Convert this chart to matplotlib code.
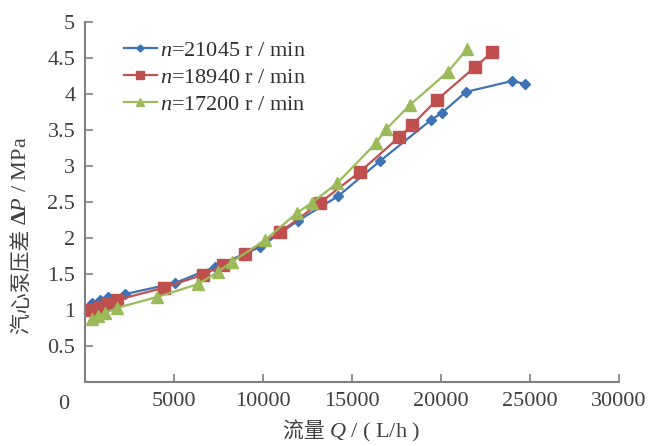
import numpy as np
import matplotlib
matplotlib.use("Agg")
import matplotlib.pyplot as plt

plt.rcParams['font.family'] = ['Liberation Serif', 'Noto Sans CJK SC']
plt.rcParams['mathtext.fontset'] = 'custom'
plt.rcParams['mathtext.rm'] = 'Liberation Serif'
plt.rcParams['mathtext.it'] = 'Liberation Serif:italic'
plt.rcParams['mathtext.bf'] = 'Liberation Serif:bold'

# Data
# -----------------------------------
q_21045 = [393, 843, 1292, 2247, 5056, 7303, 9831, 11966, 14213, 16573,
           19438, 20056, 21404, 23989, 24719]
p_21045 = [1.10, 1.14, 1.18, 1.22, 1.375, 1.60, 1.875, 2.24, 2.58, 3.07,
           3.64, 3.74, 4.03, 4.18, 4.14]

q_18940 = [393, 843, 1292, 1798, 4438, 6629, 7753, 8989, 10955, 13202,
           15449, 17640, 18371, 19775, 21910, 22865]
p_18940 = [1.00, 1.04, 1.08, 1.14, 1.31, 1.49, 1.62, 1.78, 2.08, 2.49,
           2.92, 3.40, 3.57, 3.92, 4.375, 4.58]

q_17200 = [393, 730, 1124, 1798, 4045, 6348, 7472, 8258, 10112, 11910,
           12753, 14157, 16348, 16910, 18258, 20393, 21460]
p_17200 = [0.87, 0.91, 0.96, 1.03, 1.18, 1.36, 1.53, 1.67, 1.97, 2.35,
           2.49, 2.76, 3.32, 3.51, 3.85, 4.31, 4.625]

labels = ["$n$=21045 r / min", "$n$=18940 r / min", "$n$=17200 r / min"]

# Plot
# -----------------------------------
fig = plt.figure(figsize=(6.51, 4.46), dpi=100)
ax = fig.add_axes([0.1306, 0.1435, 0.8204, 0.8072])

ax.plot(q_21045, p_21045, color='#3d72b4', marker='D', markersize=5.5,
        linewidth=1.6, label=labels[0])
ax.plot(q_18940, p_18940, color='#c0504d', marker='s', markersize=8,
        linewidth=1.6, label=labels[1])
ax.plot(q_17200, p_17200, color='#9bbb59', marker='^', markersize=8,
        linewidth=1.6, label=labels[2])

ax.set_xlim(0, 30000)
ax.set_ylim(0, 5)
ax.set_xticks(np.arange(0, 30001, 5000))
ax.set_xticklabels([''] + [str(v) for v in range(5000, 30001, 5000)])
ax.set_yticks(np.arange(0, 5.01, 0.5))
ax.set_yticklabels([''] + ['0.5', '1', '1.5', '2', '2.5', '3', '3.5', '4', '4.5', '5'])
ax.text(-0.04, -0.035, '0', transform=ax.transAxes, fontsize=16,
        color='#404040', ha='center', va='top')

for s in ['top', 'right']:
    ax.spines[s].set_visible(False)
for s in ['left', 'bottom']:
    ax.spines[s].set_color('#808080')
    ax.spines[s].set_linewidth(1.5)
ax.tick_params(direction='in', length=6, width=1.2, color='#808080',
               labelsize=16, labelcolor='#404040', pad=7)

# axis titles: CJK part and math part as separate texts
lab_col = '#404040'
fig.text(329 / 651, 1 - 432 / 446, "流量 ", fontsize=15, color=lab_col,
         family='Noto Sans CJK SC', ha='right', va='center')
fig.text(329 / 651, 1 - 432 / 446, "$Q$ / ( L/h )", fontsize=16,
         color=lab_col, ha='left', va='center')

fig.text(22 / 651, 1 - 225 / 446, "汽心泵压差 ", fontsize=15, color=lab_col,
         family='Noto Sans CJK SC', rotation=90, rotation_mode='anchor',
         ha='right', va='center')
fig.text(22 / 651, 1 - 225 / 446, "$\\mathbf{\\Delta}P$ / MPa", fontsize=16,
         color=lab_col, rotation=90, rotation_mode='anchor',
         ha='left', va='center')

ax.legend(loc='upper left', bbox_to_anchor=(0.035, 1.005), frameon=False,
          fontsize=16, handlelength=1.5, handletextpad=0.15,
          labelspacing=0.3, markerscale=0.65, labelcolor='#303030')

fig.savefig("out.png", dpi=100)
